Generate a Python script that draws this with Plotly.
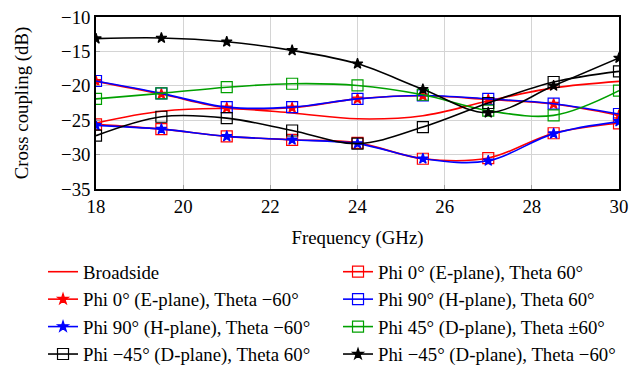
import plotly.graph_objects as go

freq = [18, 19.5, 21, 22.5, 24, 25.5, 27, 28.5, 30]

broadside = [-25.4, -23.7, -23.3, -23.95, -24.8, -24.35, -22.2, -20.3, -19.35]
phi0_th60 = [-25.6, -26.3, -27.35, -27.85, -28.3, -30.6, -30.5, -26.9, -25.45]
phi0_thm60 = [-19.35, -21.2, -23.2, -23.2, -21.9, -21.45, -22.0, -22.65, -24.3]
phi90_th60 = [-19.3, -21.1, -23.1, -23.1, -21.9, -21.4, -21.9, -22.6, -24.1]
phi90_thm60 = [-25.75, -26.3, -27.35, -27.85, -28.4, -30.6, -30.9, -26.95, -25.2]
phi45_th60 = [-21.9, -21.1, -20.2, -19.7, -19.95, -21.3, -23.6, -24.3, -20.7]
phim45_th60 = [-27.25, -24.5, -24.7, -26.5, -28.4, -26.0, -22.5, -19.45, -17.9]
phim45_thm60 = [-13.15, -13.05, -13.6, -14.85, -16.8, -20.5, -23.9, -20.0, -15.96]

names = [
    "Broadside",
    "Phi 0° (E-plane), Theta 60°",
    "Phi 0° (E-plane), Theta −60°",
    "Phi 90° (H-plane), Theta 60°",
    "Phi 90° (H-plane), Theta −60°",
    "Phi 45° (D-plane), Theta ±60°",
    "Phi −45° (D-plane), Theta 60°",
    "Phi −45° (D-plane), Theta −60°",
]
series = [broadside, phi0_th60, phi0_thm60, phi90_th60, phi90_thm60,
          phi45_th60, phim45_th60, phim45_thm60]
colors = ["#ff0000", "#ff0000", "#ff0000", "#0000ff", "#0000ff",
          "#00a000", "#000000", "#000000"]
symbols = [None, "square-open", "star", "square-open", "star",
           "square-open", "square-open", "star"]

fig = go.Figure()
for name, ys, c, s in zip(names, series, colors, symbols):
    if s is None:
        fig.add_trace(go.Scatter(x=freq, y=ys, name=name, mode="lines",
                                 line=dict(color=c, width=1.6, shape="spline", smoothing=1)))
    else:
        msize = 11 if s == "square-open" else 8
        fig.add_trace(go.Scatter(x=freq, y=ys, name=name, mode="lines+markers",
                                 line=dict(color=c, width=1.6, shape="spline", smoothing=1),
                                 marker=dict(symbol=s, size=msize, color=c,
                                             line=dict(color=c, width=1.2))))

font_family = "Liberation Serif"
fs = 18.8
# the page body adds an 8px offset, so margins are shifted up/left by 8px
fig.update_layout(
    width=643, height=368,
    margin=dict(l=88, r=32, t=9, b=187, autoexpand=False),
    plot_bgcolor="white", paper_bgcolor="white",
    font=dict(family=font_family, size=fs, color="black"),
    showlegend=True,
    legend=dict(orientation="h", x=-0.1013, xanchor="left", y=-0.372, yanchor="top",
                entrywidth=250, entrywidthmode="pixels",
                font=dict(family=font_family, size=fs, color="black"),
                bgcolor="rgba(0,0,0,0)"),
)
fig.update_xaxes(range=[18, 30], dtick=2, tick0=18,
                 showgrid=True, gridcolor="#d4d4d4", gridwidth=1,
                 showline=True, linecolor="black", linewidth=1.5, mirror=True,
                 ticks="inside", ticklen=4, tickcolor="#a0a0a0",
                 zeroline=False, tickfont=dict(size=fs), ticklabeloverflow="allow",
                 title=dict(text="Frequency (GHz)", standoff=15, font=dict(size=fs)))
fig.update_yaxes(range=[-35, -10], dtick=5, tick0=-35,
                 showgrid=True, gridcolor="#d4d4d4", gridwidth=1,
                 showline=True, linecolor="black", linewidth=1.5, mirror=True,
                 ticks="inside", ticklen=4, tickcolor="#a0a0a0",
                 zeroline=False, tickfont=dict(size=fs), ticklabeloverflow="allow",
                 title=dict(text="Cross coupling (dB)", standoff=28, font=dict(size=fs)))

fig.write_html("out.html")
